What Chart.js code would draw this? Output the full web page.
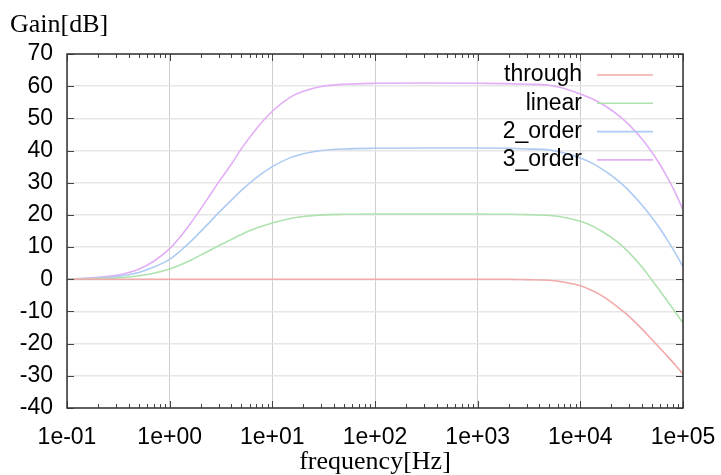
<!DOCTYPE html>
<html>
<head>
<meta charset="utf-8">
<script src="https://cdn.jsdelivr.net/npm/chart.js@4"></script>
<style>
  html, body { margin: 0; padding: 0; background: #fff; }
</style>
</head>
<body>
<canvas id="c" width="721" height="475"></canvas>
<script>
'use strict';

// values
const freqHz = [0.1, 0.15, 0.2, 0.3, 0.4, 0.5, 0.7, 1, 1.3, 1.6, 2, 2.5, 3, 4, 5, 7, 10, 15, 20, 30, 50,
                100, 300, 1000, 2000, 3000, 5000, 7000, 10000, 13000, 16000, 20000, 25000, 30000,
                40000, 50000, 60000, 70000, 85000, 100000];
const gainThrough = [0, 0, 0, 0, 0, 0, 0, 0, 0, 0, 0, 0, 0, 0, 0, 0, 0, 0, 0, 0, 0,
                     0, 0, 0, 0, -0.1, -0.3, -0.9, -2.0, -3.5, -5.0, -7.1, -9.5, -11.6,
                     -15.5, -18.8, -21.5, -23.8, -26.8, -29.5];
const gainLinear = [0.05, 0.1, 0.2, 0.4, 0.7, 1.1, 1.9, 3.2, 4.6, 5.9, 7.5, 9.1, 10.4, 12.4, 13.9, 15.9, 17.5, 18.9, 19.5, 20.0, 20.2,
                    20.3, 20.3, 20.3, 20.2, 20.1, 19.8, 19.2, 18.0, 16.6, 15.0, 13.0, 10.6, 8.2,
                    3.7, -0.3, -3.7, -6.6, -10.4, -13.6];
const gain2Order = [0.1, 0.2, 0.4, 0.8, 1.4, 2.1, 3.8, 6.2, 9.1, 11.7, 14.8, 18.0, 20.7, 24.6, 27.6, 31.6, 35.0, 37.8, 39.0, 40.0, 40.5,
                    40.7, 40.8, 40.8, 40.7, 40.5, 40.2, 39.2, 37.7, 36.1, 34.4, 32.3, 29.8, 27.4,
                    23.0, 19.1, 15.6, 12.3, 7.9, 3.9];
const gain3Order = [0.1, 0.3, 0.6, 1.2, 2.1, 3.1, 5.6, 9.5, 13.6, 17.4, 21.8, 26.4, 30.2, 35.8, 40.6, 46.8, 52.2, 56.6, 58.4, 59.9, 60.6,
                    60.9, 61.0, 60.9, 60.8, 60.6, 60.3, 59.3, 57.6, 56.1, 54.6, 52.6, 50.2, 47.9,
                    43.5, 39.4, 35.5, 31.8, 26.6, 21.6];
const seriesNames = ['through', 'linear', '2_order', '3_order'];
const seriesColors = ['#f2a9a9', '#aee2ae', '#aecbf3', '#e2aef5'];
const xTickValues = [0.1, 1, 10, 100, 1000, 10000, 100000];
const xMinorMult = [2, 3, 4, 5, 6, 7, 8, 9];

const expLabel = v => {
    const e = Math.round(Math.log10(v));
    return '1e' + (e < 0 ? '-' : '+') + String(Math.abs(e)).padStart(2, '0');
};

const toPoints = arr => arr.map((y, i) => ({ x: freqHz[i], y: y }));

const sans = 'Liberation Sans, Arial, sans-serif';
const serif = 'Liberation Serif, Times New Roman, serif';

// gnuplot style frame with inward ticks
const framePlugin = {
    id: 'gpFrame',
    afterDraw(chart) {
        const ctx = chart.ctx;
        const a = chart.chartArea;
        const xs = chart.scales.x, ys = chart.scales.y;
        ctx.save();
        ctx.strokeStyle = '#444';
        ctx.lineWidth = 1;
        ctx.beginPath();
        xTickValues.forEach(v => {
            const px = Math.round(xs.getPixelForValue(v)) + 0.5;
            ctx.moveTo(px, a.bottom); ctx.lineTo(px, a.bottom - 7);
            ctx.moveTo(px, a.top); ctx.lineTo(px, a.top + 7);
            if (v < 100000) {
                xMinorMult.forEach(m => {
                    const mx = Math.round(xs.getPixelForValue(v * m)) + 0.5;
                    ctx.moveTo(mx, a.bottom); ctx.lineTo(mx, a.bottom - 4);
                    ctx.moveTo(mx, a.top); ctx.lineTo(mx, a.top + 4);
                });
            }
        });
        ys.ticks.forEach(t => {
            const py = Math.round(ys.getPixelForValue(t.value)) + 0.5;
            ctx.moveTo(a.left, py); ctx.lineTo(a.left + 7, py);
            ctx.moveTo(a.right, py); ctx.lineTo(a.right - 7, py);
        });
        ctx.stroke();
        ctx.strokeStyle = '#333';
        ctx.lineWidth = 1.5;
        ctx.strokeRect(a.left, a.top, a.right - a.left, a.bottom - a.top);
        ctx.restore();
    }
};

// key inside the plot, top right
const keyPlugin = {
    id: 'gpKey',
    afterDatasetsDraw(chart) {
        const ctx = chart.ctx;
        ctx.save();
        ctx.font = '23px ' + sans;
        ctx.textAlign = 'right';
        ctx.textBaseline = 'middle';
        chart.data.datasets.forEach((ds, i) => {
            const y = 75 + i * 28.3;
            ctx.fillStyle = '#000';
            ctx.fillText(ds.label, 582, y);
            ctx.strokeStyle = ds.borderColor;
            ctx.lineWidth = 1.6;
            ctx.beginPath();
            ctx.moveTo(597, y);
            ctx.lineTo(653, y);
            ctx.stroke();
        });
        ctx.restore();
    }
};

const axisTitlePlugin = {
    id: 'gpTitles',
    afterDraw(chart) {
        const ctx = chart.ctx;
        const a = chart.chartArea;
        ctx.save();
        ctx.fillStyle = '#000';
        ctx.font = '26px ' + serif;
        ctx.textBaseline = 'middle';
        ctx.textAlign = 'left';
        ctx.fillText('Gain[dB]', 10, 25);
        ctx.textAlign = 'center';
        ctx.fillText('frequency[Hz]', (a.left + a.right) / 2, 462);
        ctx.restore();
    }
};

const seriesData = [gainThrough, gainLinear, gain2Order, gain3Order];

new Chart(document.getElementById('c'), {
    type: 'line',
    data: {
        datasets: seriesData.map((arr, i) => ({
            label: seriesNames[i],
            data: toPoints(arr),
            borderColor: seriesColors[i],
            borderWidth: 1.6,
            pointRadius: 0,
            fill: false,
            cubicInterpolationMode: 'monotone'
        }))
    },
    options: {
        responsive: false,
        animation: false,
        layout: { padding: { top: 54, right: 38, left: 0, bottom: 0 } },
        plugins: {
            legend: { display: false },
            tooltip: { enabled: false }
        },
        scales: {
            x: {
                type: 'logarithmic',
                min: 0.1,
                max: 100000,
                afterBuildTicks: s => { s.ticks = xTickValues.map(v => ({ value: v })); },
                afterFit: s => { s.height = 67; s.paddingLeft = 0; s.paddingRight = 0; },
                grid: { color: '#cfcfcf', lineWidth: 1, drawTicks: false },
                border: { display: false },
                ticks: {
                    autoSkip: false,
                    maxRotation: 0,
                    padding: 16,
                    color: '#000',
                    font: { family: sans, size: 23 },
                    callback: v => expLabel(v)
                }
            },
            y: {
                min: -40,
                max: 70,
                afterFit: s => { s.width = 67; },
                grid: { color: '#e6e6e6', lineWidth: 1.5, drawTicks: false },
                border: { display: false },
                ticks: {
                    stepSize: 10,
                    padding: 14,
                    color: '#000',
                    font: { family: sans, size: 23 }
                }
            }
        }
    },
    plugins: [framePlugin, keyPlugin, axisTitlePlugin]
});
</script>
</body>
</html>
